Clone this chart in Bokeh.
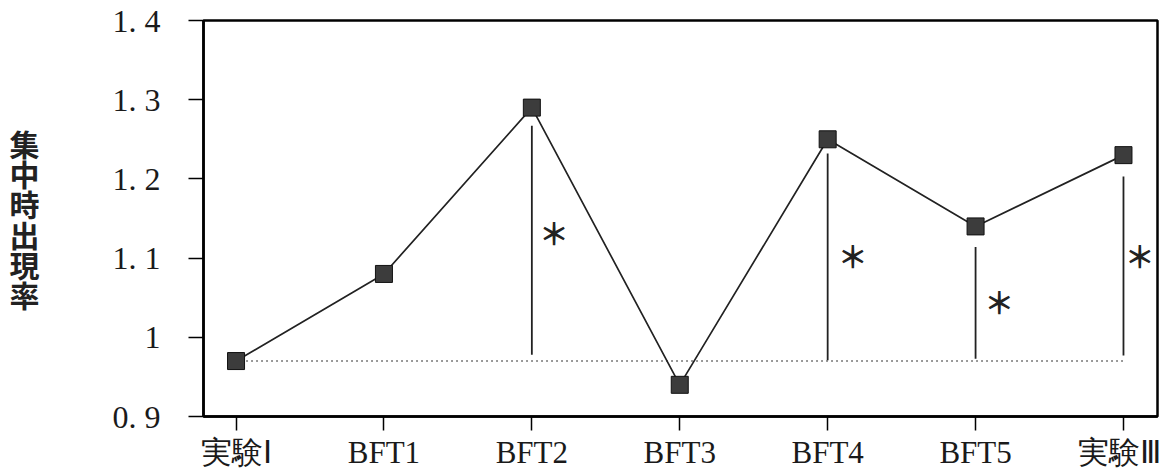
from bokeh.plotting import figure
from bokeh.models import Range1d, FixedTicker, ColumnDataSource
from bokeh.core.properties import value
from bokeh.embed import file_html
from bokeh.resources import INLINE

# ---- data ----
categories = ["実験Ⅰ", "BFT1", "BFT2", "BFT3", "BFT4", "BFT5", "実験Ⅲ"]
rates = [0.97, 1.08, 1.29, 0.94, 1.25, 1.14, 1.23]
baseline = 0.97
y_ticks = [0.9, 1.0, 1.1, 1.2, 1.3, 1.4]
y_tick_labels = ["0. 9", "1", "1. 1", "1. 2", "1. 3", "1. 4"]
sig_categories = ["BFT2", "BFT4", "BFT5", "実験Ⅲ"]
sig_top = [1.267, 1.232, 1.114, 1.203]
sig_bottom = [0.978, 0.971, 0.973, 0.977]
star_x = [2.15, 4.17, 5.16, 6.11]
star_y = [1.133, 1.104, 1.046, 1.104]
y_label = "集中時出現率"

xs = list(range(len(categories)))
sig_x = [categories.index(c) for c in sig_categories]

p = figure(width=1160, height=472, output_backend="svg", toolbar_location=None,
           x_range=Range1d(-0.22, 6.23), y_range=Range1d(0.9, 1.4),
           min_border_left=203, min_border_right=3, min_border_top=20,
           min_border_bottom=49)
p.background_fill_color = "white"
p.border_fill_color = "white"
p.grid.visible = False
p.outline_line_color = "black"
p.outline_line_width = 2.5

serif = "Liberation Serif"

# y axis
p.yaxis.ticker = FixedTicker(ticks=y_ticks)
p.yaxis.major_label_overrides = {t: l for t, l in zip(y_ticks, y_tick_labels)}
p.yaxis.minor_tick_line_color = None
p.yaxis.major_tick_out = 15
p.yaxis.major_tick_in = 0
p.yaxis.major_tick_line_width = 1.5
p.yaxis.major_label_standoff = 28
p.yaxis.major_label_text_font = serif
p.yaxis.major_label_text_font_size = "32px"
p.yaxis.major_label_text_color = "#1a1a1a"
p.yaxis.axis_line_width = 2.5
p.yaxis.axis_label = "\n".join(y_label)
p.yaxis.axis_label_orientation = "horizontal"
p.yaxis.axis_label_text_font = "Noto Sans CJK JP"
p.yaxis.axis_label_text_font_style = "bold"
p.yaxis.axis_label_text_font_size = "30px"
p.yaxis.axis_label_text_line_height = 0.69
p.yaxis.axis_label_text_color = "#222"
p.yaxis.axis_label_standoff = 70

# x axis
p.xaxis.ticker = FixedTicker(ticks=xs)
p.xaxis.major_label_overrides = {i: c for i, c in zip(xs, categories)}
p.xaxis.minor_tick_line_color = None
p.xaxis.major_tick_out = 14
p.xaxis.major_tick_in = 0
p.xaxis.major_tick_line_width = 1.5
p.xaxis.major_label_standoff = 4
p.xaxis.major_label_text_font = serif
p.xaxis.major_label_text_font_size = "31px"
p.xaxis.major_label_text_color = "#1a1a1a"
p.xaxis.axis_line_width = 2.5

# baseline (dotted)
p.line(x=[xs[0], xs[-1]], y=[baseline, baseline], line_color="#777",
       line_width=1.5, line_dash="2 3")

# significance lines
p.segment(x0=sig_x, y0=sig_bottom, x1=sig_x, y1=sig_top,
          line_color="#222", line_width=1.8)

# main line + markers
src = ColumnDataSource(dict(x=xs, y=rates))
p.line("x", "y", source=src, line_color="#222", line_width=1.7)
p.scatter("x", "y", source=src, marker="square", size=17,
          fill_color="#3c3c3c", line_color="#111", line_width=1)

# asterisks
p.text(x=star_x, y=star_y, text=["＊"] * len(star_x),
       text_align="center", text_baseline="middle",
       text_font=value("Noto Sans CJK JP"), text_font_size="30px",
       text_font_style="bold", text_color="#222")

open("out.html", "w").write(file_html(p, INLINE))
